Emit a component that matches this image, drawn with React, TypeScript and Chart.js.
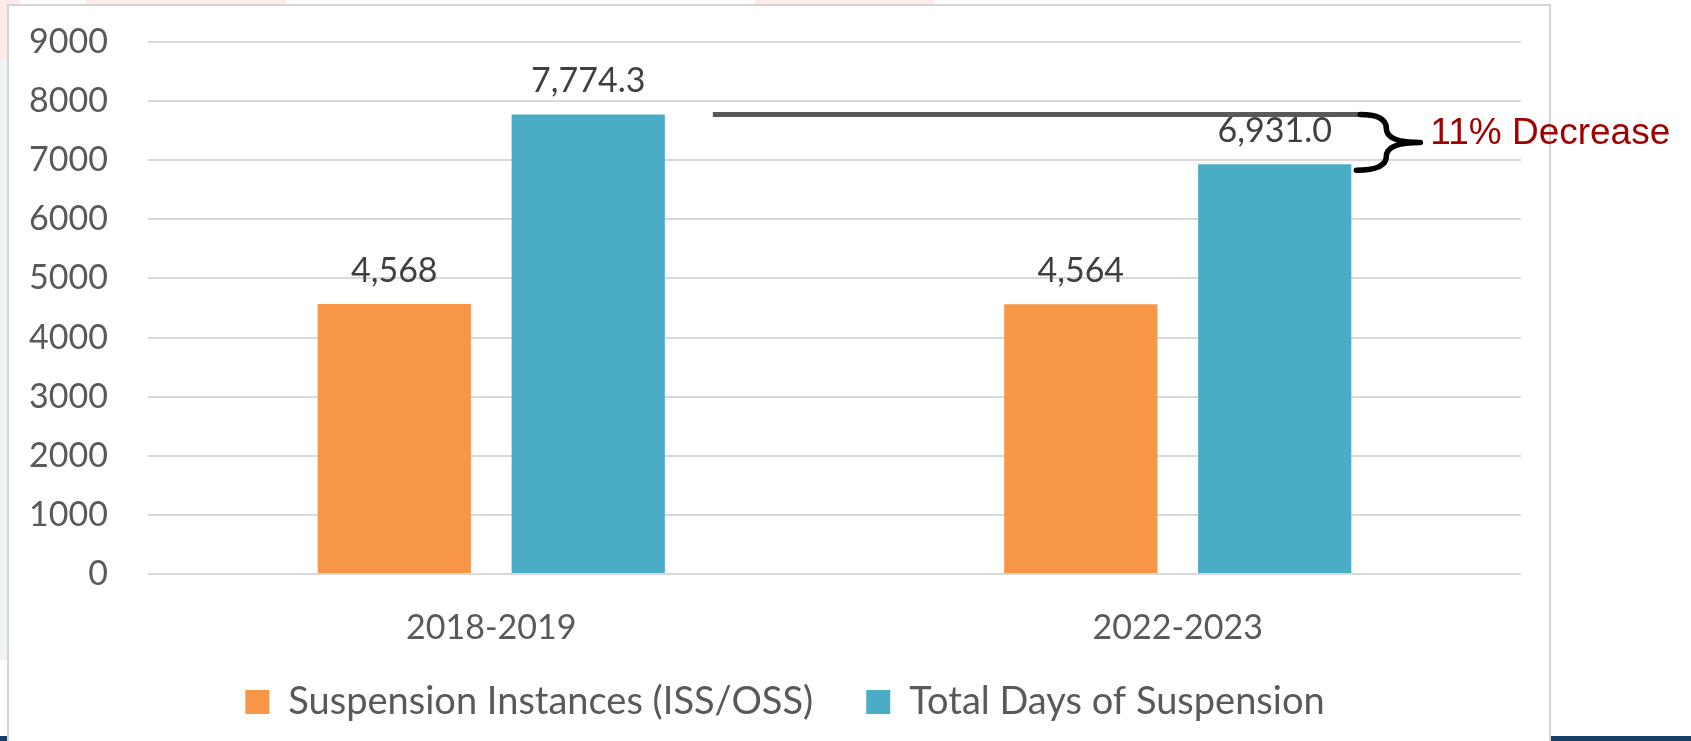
import React, { useEffect, useRef } from "react";
import { Chart, registerables } from "chart.js";

Chart.register(...registerables);

const categories = ["2018-2019", "2022-2023"];
const seriesNames = ["Suspension Instances (ISS/OSS)", "Total Days of Suspension"];
const suspensionInstances = [4568, 4564];
const totalDays = [7774.3, 6931.0];
const seriesColors = ["#F79646", "#4BACC6"];
const seriesDecimals = [0, 1];
const yTickMin = 0;
const yTickMax = 9000;
const yTickStep = 1000;
const annotationText = "11% Decrease";

const FONT = "Lato, 'Open Sans', sans-serif";

const fmt = (v: number, d: number) =>
  v.toLocaleString("en-US", { minimumFractionDigits: d, maximumFractionDigits: d });

const backgroundPlugin = {
  id: "pageBackground",
  beforeDraw(chart: any) {
    const { ctx, width, height } = chart;
    ctx.save();
    ctx.fillStyle = "#ffffff";
    ctx.fillRect(0, 0, width, height);
    ctx.fillStyle = "#fcebe8";
    ctx.fillRect(0, 0, 20, 60);
    ctx.fillRect(86, 0, 200, 6);
    ctx.fillRect(755, 0, 180, 6);
    ctx.fillStyle = "#f0f3f8";
    ctx.fillRect(0, 60, 7, 600);
    ctx.fillStyle = "#163f66";
    ctx.fillRect(0, 736, 8, 10);
    ctx.fillRect(1550, 736, 141, 10);
    ctx.fillStyle = "#ffffff";
    ctx.fillRect(8, 5, 1542, 740);
    ctx.strokeStyle = "#d4d4d4";
    ctx.lineWidth = 2;
    ctx.strokeRect(8, 5, 1542, 740);
    ctx.restore();
  },
};

const dataLabelPlugin = {
  id: "dataLabels",
  afterDatasetsDraw(chart: any) {
    const { ctx } = chart;
    ctx.save();
    ctx.font = `34px ${FONT}`;
    ctx.fillStyle = "#404040";
    ctx.textAlign = "center";
    ctx.textBaseline = "alphabetic";
    chart.data.datasets.forEach((ds: any, di: number) => {
      const meta = chart.getDatasetMeta(di);
      meta.data.forEach((bar: any, i: number) => {
        ctx.fillText(fmt(ds.data[i], seriesDecimals[di]), bar.x, bar.y - 22);
      });
    });
    ctx.restore();
  },
};

const annotationPlugin = {
  id: "decreaseAnnotation",
  afterDraw(chart: any) {
    const { ctx } = chart;
    const meta = chart.getDatasetMeta(1);
    const b0 = meta.data[0];
    const b1 = meta.data[1];
    const yTop = chart.scales.y.getPixelForValue(totalDays[0]);
    const yBot = chart.scales.y.getPixelForValue(totalDays[1]) + 6;
    const x0 = b0.x + b0.width / 2 + 48;
    const x1 = b1.x + b1.width / 2 + 11;
    ctx.save();
    ctx.strokeStyle = "#595959";
    ctx.lineWidth = 5;
    ctx.beginPath();
    ctx.moveTo(x0, yTop);
    ctx.lineTo(x1, yTop);
    ctx.stroke();
    const xs = x1 - 2;
    const xm = x1 + 24;
    const xt = x1 + 58;
    const yMid = (yTop + yBot) / 2;
    ctx.strokeStyle = "#000000";
    ctx.lineWidth = 5.5;
    ctx.lineCap = "round";
    ctx.lineJoin = "round";
    ctx.beginPath();
    ctx.moveTo(xs, yTop);
    ctx.quadraticCurveTo(xm, yTop, xm, (yTop + yMid) / 2);
    ctx.quadraticCurveTo(xm, yMid, xt, yMid);
    ctx.quadraticCurveTo(xm, yMid, xm, (yMid + yBot) / 2);
    ctx.quadraticCurveTo(xm, yBot, xs - 4, yBot);
    ctx.stroke();
    ctx.fillStyle = "#A00000";
    ctx.font = "37px 'Liberation Sans', Arial, sans-serif";
    ctx.textAlign = "left";
    ctx.textBaseline = "middle";
    ctx.fillText(annotationText, xt + 10, yTop + 19);
    ctx.restore();
  },
};

export default function App() {
  const ref = useRef<HTMLCanvasElement | null>(null);
  useEffect(() => {
    const canvas = ref.current;
    if (!canvas) return;
    const chart = new Chart(canvas, {
      type: "bar",
      data: {
        labels: categories,
        datasets: [
          {
            label: seriesNames[0],
            data: suspensionInstances,
            backgroundColor: seriesColors[0],
            borderWidth: 0,
            categoryPercentage: 0.565,
            barPercentage: 0.79,
          },
          {
            label: seriesNames[1],
            data: totalDays,
            backgroundColor: seriesColors[1],
            borderWidth: 0,
            categoryPercentage: 0.565,
            barPercentage: 0.79,
          },
        ],
      },
      options: {
        responsive: false,
        animation: false,
        devicePixelRatio: 1,
        layout: { padding: { left: 49, right: 170, top: 42, bottom: 10 } },
        scales: {
          x: {
            grid: { display: false, drawTicks: false },
            border: { display: false },
            ticks: { padding: 34, color: "#595959", font: { family: FONT, size: 34 } },
            afterFit: (s: any) => {
              s.height = 56;
              s._computeLabelArea = () => undefined;
            },
          },
          y: {
            min: yTickMin,
            max: yTickMax,
            grid: {
              color: "#d9d9d9",
              lineWidth: 2,
              drawTicks: true,
              tickLength: 40,
              tickColor: "rgba(0,0,0,0)",
            },
            border: { display: false },
            ticks: {
              stepSize: yTickStep,
              padding: 0,
              color: "#595959",
              font: { family: FONT, size: 34 },
              callback: (v: any) => String(v),
            },
            afterFit: (s: any) => {
              s.width = 99;
              s._computeLabelArea = () => undefined;
            },
          },
        },
        plugins: {
          legend: {
            position: "bottom",
            labels: {
              boxWidth: 24,
              boxHeight: 24,
              padding: 53,
              color: "#595959",
              font: { family: FONT, size: 38 },
            },
          },
          tooltip: { enabled: false },
        },
      },
      plugins: [backgroundPlugin, dataLabelPlugin, annotationPlugin],
    } as any);
    return () => chart.destroy();
  }, []);
  return (
    <div style={{ position: "absolute", left: 0, top: 0, width: 1691, height: 741 }}>
      <canvas ref={ref} width={1691} height={741} style={{ display: "block" }} />
    </div>
  );
}
